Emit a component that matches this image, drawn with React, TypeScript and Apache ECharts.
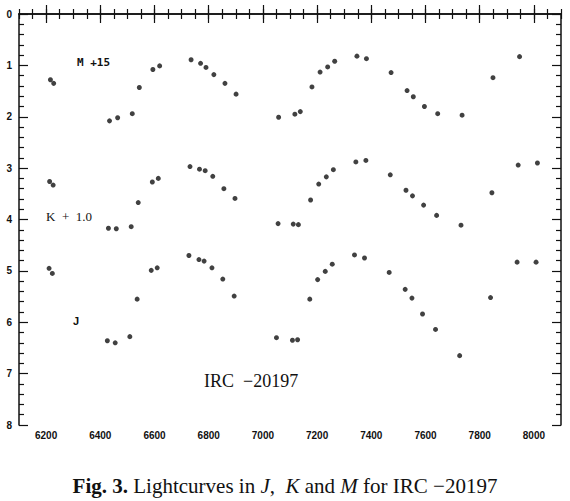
import React, { useEffect, useRef } from "react";
import * as echarts from "echarts";

// ---- Data (JD - 2440000, magnitude + offset) ----
const mDates = [6216, 6228, 6434, 6464, 6518, 6544, 6594, 6619, 6735, 6770, 6790, 6819, 6860, 6901, 7058, 7118, 7138, 7181, 7211, 7239, 7265, 7347, 7382, 7473, 7532, 7555, 7596, 7645, 7735, 7849, 7947];
const mMags = [1.28, 1.35, 2.08, 2.02, 1.94, 1.43, 1.08, 1.01, 0.89, 0.96, 1.04, 1.18, 1.35, 1.56, 2.01, 1.95, 1.9, 1.42, 1.13, 1.03, 0.92, 0.82, 0.87, 1.14, 1.49, 1.61, 1.8, 1.94, 1.97, 1.24, 0.83];

const kDates = [6213, 6226, 6430, 6459, 6514, 6540, 6592, 6614, 6731, 6766, 6787, 6815, 6856, 6897, 7056, 7112, 7131, 7176, 7206, 7234, 7260, 7343, 7380, 7470, 7528, 7552, 7593, 7641, 7731, 7845, 7942, 8013];
const kMags = [3.26, 3.33, 4.17, 4.18, 4.14, 3.67, 3.27, 3.2, 2.97, 3.02, 3.05, 3.16, 3.4, 3.59, 4.08, 4.09, 4.1, 3.62, 3.31, 3.17, 3.03, 2.88, 2.85, 3.13, 3.43, 3.54, 3.72, 3.92, 4.11, 3.48, 2.94, 2.9];

const jDates = [6211, 6223, 6426, 6455, 6509, 6536, 6588, 6610, 6727, 6764, 6783, 6812, 6852, 6894, 7050, 7109, 7128, 7173, 7202, 7230, 7256, 7338, 7375, 7466, 7525, 7550, 7589, 7637, 7726, 7840, 7938, 8008];
const jMags = [4.95, 5.05, 6.36, 6.4, 6.28, 5.55, 4.99, 4.94, 4.7, 4.78, 4.81, 4.94, 5.16, 5.49, 6.3, 6.35, 6.34, 5.55, 5.17, 5.01, 4.87, 4.69, 4.75, 5.03, 5.36, 5.53, 5.84, 6.14, 6.65, 5.52, 4.83, 4.83];

const xMajorTicks = [6200, 6400, 6600, 6800, 7000, 7200, 7400, 7600, 7800, 8000];
const X_MIN = 6100;
const X_MAX = 8100;
const Y_MIN = 0;
const Y_MAX = 8;

const zip = (xs: number[], ys: number[]) => xs.map((x, i) => [x, ys[i]]);

export default function App() {
  const ref = useRef<HTMLDivElement>(null);

  useEffect(() => {
    if (!ref.current) return;
    const chart = echarts.init(ref.current, undefined, { renderer: "svg" });
    const grid = { left: 19, right: 9, top: 14, bottom: 76 };
    const axisLine = { show: true, lineStyle: { color: "#111", width: 1.5 } };
    const tickStyle = { color: "#111", width: 1.2 };
    const labelFont = {
      fontFamily: "Liberation Sans, Arial, sans-serif",
      fontWeight: "bold" as const,
      fontSize: 10,
      color: "#111",
    };
    const scatter = (data: number[][]) => ({
      type: "scatter" as const,
      xAxisIndex: 0,
      yAxisIndex: 0,
      data,
      symbol: "circle",
      symbolSize: 5,
      itemStyle: { color: "#111" },
      silent: true,
    });

    chart.setOption({
      animation: false,
      backgroundColor: "#fff",
      grid: [{ ...grid }, { ...grid }],
      xAxis: [
        {
          type: "value",
          gridIndex: 0,
          position: "bottom",
          min: X_MIN,
          max: X_MAX,
          axisLine,
          axisTick: { show: true, inside: true, length: 9, customValues: xMajorTicks, lineStyle: tickStyle },
          axisLabel: {
            show: true,
            customValues: xMajorTicks,
            margin: 5,
            formatter: (v: number) => String(v),
            ...labelFont,
          },
          splitLine: { show: false },
        },
        {
          type: "value",
          gridIndex: 0,
          position: "top",
          min: X_MIN,
          max: X_MAX,
          axisLine,
          axisTick: { show: true, inside: true, length: 9, customValues: xMajorTicks, lineStyle: tickStyle },
          axisLabel: { show: false },
          splitLine: { show: false },
        },
        {
          type: "value",
          gridIndex: 1,
          position: "bottom",
          min: X_MIN,
          max: X_MAX,
          interval: 50,
          axisLine: { show: false },
          axisTick: { show: true, inside: true, length: 5, lineStyle: tickStyle },
          axisLabel: { show: false },
          splitLine: { show: false },
        },
        {
          type: "value",
          gridIndex: 1,
          position: "top",
          min: X_MIN,
          max: X_MAX,
          interval: 50,
          axisLine: { show: false },
          axisTick: { show: true, inside: true, length: 5, lineStyle: tickStyle },
          axisLabel: { show: false },
          splitLine: { show: false },
        },
      ],
      yAxis: [
        {
          type: "value",
          gridIndex: 0,
          position: "left",
          inverse: true,
          min: Y_MIN,
          max: Y_MAX,
          interval: 1,
          axisLine,
          axisTick: { show: true, inside: true, length: 9, lineStyle: tickStyle },
          minorTick: { show: true, splitNumber: 5, length: 5, lineStyle: tickStyle },
          axisLabel: { show: true, margin: 7, ...labelFont },
          splitLine: { show: false },
          minorSplitLine: { show: false },
        },
        {
          type: "value",
          gridIndex: 0,
          position: "right",
          inverse: true,
          min: Y_MIN,
          max: Y_MAX,
          interval: 1,
          axisLine,
          axisTick: { show: true, inside: true, length: 9, lineStyle: tickStyle },
          minorTick: { show: true, splitNumber: 5, length: 5, lineStyle: tickStyle },
          axisLabel: { show: false },
          splitLine: { show: false },
        },
        {
          type: "value",
          gridIndex: 1,
          show: false,
          inverse: true,
          min: Y_MIN,
          max: Y_MAX,
        },
      ],
      series: [
        { name: "M", ...scatter(zip(mDates, mMags)) },
        { name: "K", ...scatter(zip(kDates, kMags)) },
        { name: "J", ...scatter(zip(jDates, jMags)) },
      ],
      graphic: [
        {
          type: "text",
          left: 77,
          top: 57,
          style: {
            text: "M +15",
            fontFamily: "DejaVu Sans Mono, monospace",
            fontWeight: "bold",
            fontSize: 11,
            fill: "#111",
          },
        },
        {
          type: "text",
          left: 46,
          top: 210,
          style: {
            text: "K  +  1.0",
            fontFamily: "Liberation Serif, serif",
            fontSize: 13,
            fill: "#111",
          },
        },
        {
          type: "text",
          left: 73,
          top: 315,
          style: {
            text: "J",
            fontFamily: "Liberation Sans, sans-serif",
            fontWeight: "bold",
            fontSize: 11,
            fill: "#111",
          },
        },
        {
          type: "text",
          left: 204,
          top: 372,
          style: {
            text: "IRC  \u221220197",
            fontFamily: "Liberation Serif, serif",
            fontSize: 18,
            fill: "#111",
          },
        },
        {
          type: "text",
          left: "center",
          top: 475,
          style: {
            text: "{b|Fig. 3.} Lightcurves in {i|J},  {i|K} and {i|M} for IRC \u221220197",
            fontFamily: "Liberation Serif, serif",
            fontSize: 21,
            fill: "#111",
            rich: {
              b: { fontFamily: "Liberation Serif, serif", fontSize: 21, fontWeight: "bold", fill: "#111" },
              i: { fontFamily: "Liberation Serif, serif", fontSize: 21, fontStyle: "italic", fill: "#111" },
            },
          },
        },
      ],
    });
    return () => chart.dispose();
  }, []);

  return (
    <div
      ref={ref}
      style={{ position: "absolute", left: 0, top: 0, width: 570, height: 501, background: "#fff" }}
    />
  );
}
